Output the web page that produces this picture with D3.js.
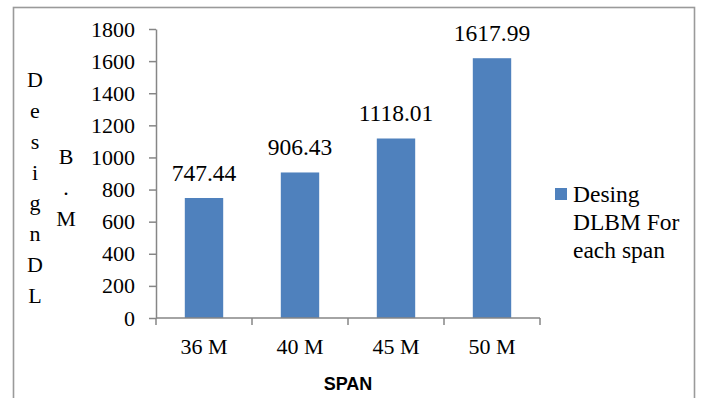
<!DOCTYPE html>
<html>
<head>
<meta charset="utf-8">
<script src="https://cdn.jsdelivr.net/npm/d3@7"></script>
<style>
  html, body { margin: 0; padding: 0; background: #fff; }
  svg { display: block; }
  .serif { font-family: "Liberation Serif", "Times New Roman", Times, serif; }
  .sans { font-family: "Liberation Sans", Arial, sans-serif; font-weight: bold; }
</style>
</head>
<body>
<svg id="chart" width="701" height="398"></svg>
<script>
// Chart data
const spans = ["36 M", "40 M", "45 M", "50 M"];
const dlbmValues = [747.44, 906.43, 1118.01, 1617.99];
const yTicks = [0, 200, 400, 600, 800, 1000, 1200, 1400, 1600, 1800];
const seriesName = ["Desing", "DLBM For", "each span"];
const yTitleColumns = ["DesignDL", "B.M"];
const xTitle = "SPAN";

const plot = { left: 156, right: 540, top: 29, bottom: 318 };
const barColor = "#4F81BD";
const axisColor = "#868686";

const svg = d3.select("#chart");

// Outer chart frame (open at the bottom edge of the view)
svg.append("rect")
  .attr("x", 13.5).attr("y", 7.5)
  .attr("width", 681).attr("height", 420)
  .attr("fill", "none")
  .attr("stroke", "#9a9a9a")
  .attr("stroke-width", 1.6);

const y = d3.scaleLinear().domain([0, 1800]).range([plot.bottom, plot.top]);

// Category slots (tick boundaries) and bar placement inside each slot
const xSlot = d3.scaleBand().domain(spans).range([plot.left, plot.right]).padding(0);
const xBar = d3.scaleBand().domain(spans).range([plot.left, plot.right])
  .paddingInner(0.6).paddingOuter(0.3);

const rows = spans.map((s, i) => ({ s, v: dlbmValues[i] }));

// Bars
svg.append("g").selectAll("rect")
  .data(rows)
  .join("rect")
  .attr("x", d => xBar(d.s))
  .attr("y", d => y(d.v))
  .attr("width", xBar.bandwidth())
  .attr("height", d => y(0) - y(d.v))
  .attr("fill", barColor);

// Value labels above bars
svg.append("g").attr("class", "serif").selectAll("text")
  .data(rows)
  .join("text")
  .attr("x", d => xBar(d.s) + xBar.bandwidth() / 2)
  .attr("y", d => y(d.v) - 17)
  .attr("text-anchor", "middle")
  .attr("font-size", 23.5)
  .attr("fill", "#000")
  .text(d => d3.format(".2f")(d.v));

// Y axis
const yAxis = svg.append("g")
  .attr("transform", `translate(${plot.left},0)`)
  .call(d3.axisLeft(y).tickValues(yTicks).tickSize(7).tickPadding(14).tickSizeOuter(0).tickFormat(d3.format("d")));
yAxis.attr("font-family", null).attr("font-size", null).attr("class", "serif");
yAxis.select(".domain").attr("stroke", axisColor).attr("stroke-width", 1.5);
yAxis.selectAll(".tick line").attr("stroke", axisColor).attr("stroke-width", 1.5);
yAxis.selectAll(".tick text")
  .attr("font-size", 22)
  .attr("fill", "#000");

// X axis: ticks at slot boundaries, labels centred in each slot
const xAxisG = svg.append("g").attr("class", "serif").attr("transform", `translate(0,${plot.bottom})`);
xAxisG.append("line")
  .attr("x1", plot.left).attr("x2", plot.right)
  .attr("y1", 0).attr("y2", 0)
  .attr("stroke", axisColor).attr("stroke-width", 1.5);
const boundaries = spans.map(s => xSlot(s)).concat([xSlot(spans[spans.length - 1]) + xSlot.bandwidth()]);
xAxisG.selectAll("line.tk")
  .data(boundaries)
  .join("line")
  .attr("class", "tk")
  .attr("x1", d => d).attr("x2", d => d)
  .attr("y1", 0).attr("y2", 7)
  .attr("stroke", axisColor).attr("stroke-width", 1.5);
xAxisG.selectAll("text")
  .data(spans)
  .join("text")
  .attr("x", d => xSlot(d) + xSlot.bandwidth() / 2)
  .attr("y", 36)
  .attr("text-anchor", "middle")
  .attr("font-size", 22)
  .text(d => d);

// X axis title
svg.append("text")
  .attr("class", "sans")
  .attr("x", (plot.left + plot.right) / 2)
  .attr("y", 390)
  .attr("text-anchor", "middle")
  .attr("font-size", 18)
  .text(xTitle);

// Y axis title: stacked letters in two columns
const colX = [35, 66];
const lineStep = 30.8;
const colCenter = 189;
yTitleColumns.forEach((col, ci) => {
  const chars = col.split("");
  const firstBaseline = colCenter + 6 - (chars.length - 1) * lineStep / 2;
  const t = svg.append("text")
    .attr("class", "serif")
    .attr("text-anchor", "middle")
    .attr("font-size", 22);
  chars.forEach((ch, k) => {
    t.append("tspan")
      .attr("x", colX[ci])
      .attr("y", firstBaseline + k * lineStep)
      .text(ch);
  });
});

// Legend
const legend = svg.append("g");
legend.append("rect")
  .attr("x", 555).attr("y", 188)
  .attr("width", 12).attr("height", 12)
  .attr("fill", barColor);
const lt = legend.append("text").attr("class", "serif").attr("font-size", 23.5);
seriesName.forEach((line, i) => {
  lt.append("tspan").attr("x", 573).attr("y", 202 + i * 28).text(line);
});
</script>
</body>
</html>
